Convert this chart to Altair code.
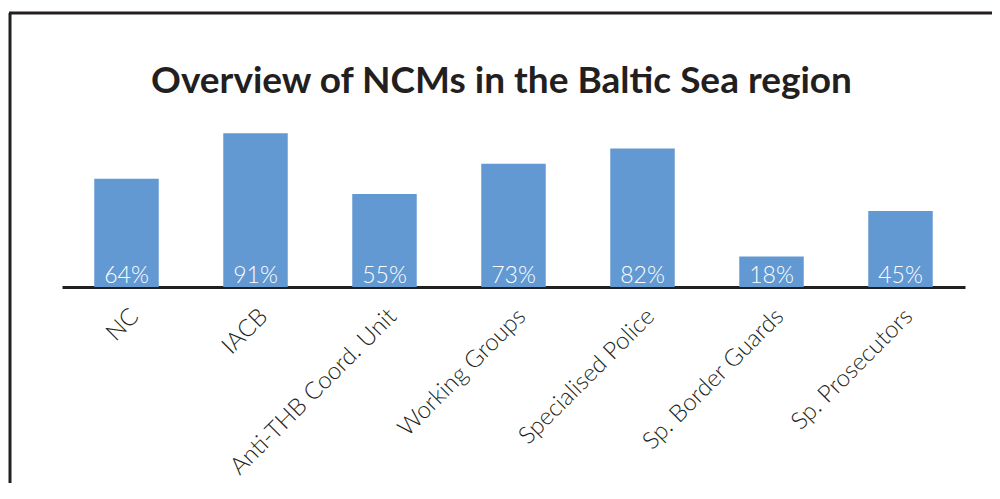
import altair as alt
import pandas as pd

categories = ["NC", "IACB", "Anti-THB Coord. Unit", "Working Groups",
              "Specialised Police", "Sp. Border Guards", "Sp. Prosecutors"]
values = [64, 91, 55, 73, 82, 18, 45]
labels = ["64%", "91%", "55%", "73%", "82%", "18%", "45%"]
title_text = "Overview of NCMs in the Baltic Sea region"

df = pd.DataFrame({"cat": categories, "value": values, "label": labels})

INK = "#231f20"
BAR = "#6399d2"

x_enc = alt.X(
    "cat:N", sort=None,
    scale=alt.Scale(paddingInner=0.5, paddingOuter=0.25),
    axis=alt.Axis(
        title=None, labelAngle=-45, labelFont="Lato", labelFontSize=24,
        labelFontWeight=300,
        labelColor=INK, domainColor=INK, domainWidth=3, ticks=False,
        labelPadding=17, labelLimit=400,
    ),
)

bars = alt.Chart(df).mark_bar(color=BAR).encode(
    x=x_enc,
    y=alt.Y("value:Q", scale=alt.Scale(domain=[0, 100]), axis=None),
)

texts = alt.Chart(df).mark_text(
    color="white", font="Lato", fontSize=23, fontWeight=300,
    baseline="alphabetic", dy=-4
).encode(
    x=alt.X("cat:N", sort=None),
    y=alt.datum(0),
    text="label:N",
)

one = pd.DataFrame({"a": [0]})
left_frame = alt.Chart(one).mark_rule(color=INK, strokeWidth=3).encode(
    x=alt.value(-52), y=alt.value(-105), y2=alt.value(381)
)
top_frame = alt.Chart(one).mark_rule(color=INK, strokeWidth=3).encode(
    x=alt.value(-53), x2=alt.value(940), y=alt.value(-105)
)
title = alt.Chart(one).mark_text(
    text=title_text, font="Lato", fontSize=37, fontWeight="bold",
    color=INK, align="center", baseline="alphabetic"
).encode(x=alt.value(439.5), y=alt.value(-25))

chart = alt.layer(left_frame, top_frame, title, bars, texts).properties(
    width=903, height=169,
    autosize=alt.AutoSizeParams(type="none"),
    padding={"left": 54, "top": 110, "right": 27, "bottom": 196},
    background="white",
).configure_view(stroke=None)

chart.save("out.html", embed_options={"renderer": "svg", "actions": False})
